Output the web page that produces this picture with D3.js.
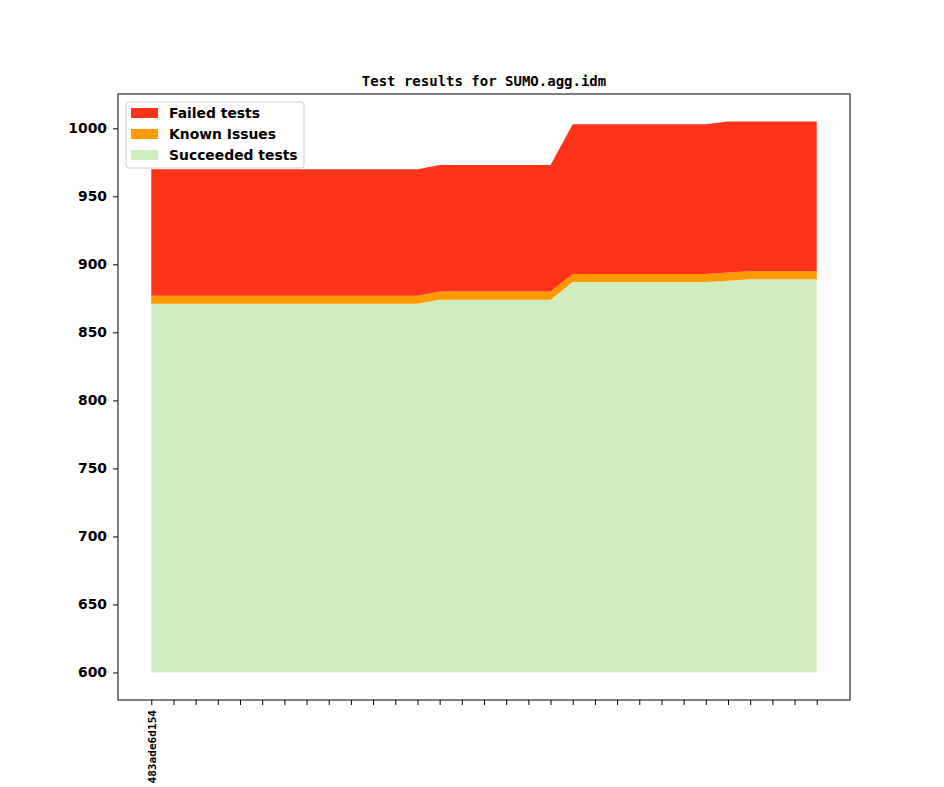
<!DOCTYPE html>
<html>
<head>
<meta charset="utf-8">
<script src="https://cdn.jsdelivr.net/npm/d3@7"></script>
<style>
    body { margin: 0; background: #fff; }
    svg { display: block; }
</style>
</head>
<body>
<svg id="chart"></svg>
<script>
// one entry per commit, only the first one carries a label
const commitLabels = ["483ade6d154", "", "", "", "", "", "", "", "", "", "",
    "", "", "", "", "", "", "", "", "", "", "",
    "", "", "", "", "", "", "", "", ""];

const succeededTests = [871, 871, 871, 871, 871, 871, 871, 871, 871, 871, 871,
    871, 871, 874, 874, 874, 874, 874, 874, 887, 887, 887,
    887, 887, 887, 887, 888, 889, 889, 889, 889];

const knownIssues = [6, 6, 6, 6, 6, 6, 6, 6, 6, 6, 6,
    6, 6, 6, 6, 6, 6, 6, 6, 6, 6, 6,
    6, 6, 6, 6, 6, 6, 6, 6, 6];

const failedTests = [93, 93, 93, 93, 93, 93, 93, 93, 93, 93, 93,
    93, 93, 93, 93, 93, 93, 93, 93, 110, 110, 110,
    110, 110, 110, 110, 111, 110, 110, 110, 110];

const yTicks = [600, 650, 700, 750, 800, 850, 900, 950, 1000];
// the bottom layer is filled down to this value only
const areaBase = 600;

const seriesKeys = ["succeeded", "known", "failed"];
const seriesNames = { failed: "Failed tests", known: "Known Issues", succeeded: "Succeeded tests" };
const seriesColors = { failed: "#ff331a", known: "#ff9900", succeeded: "#cfedbf" };

class StackChart {

    constructor( config, data ) {
        this.config = {
            parent: config.parent,
            width: config.width || 944,
            height: config.height || 787,
            margin: config.margin || {top:94, right:94, bottom:87, left:118}
        }
        this.data = data
        this.init();
    }

    init() {
        let self = this;

        self.svg = d3.select( self.config.parent )
            .attr('width', self.config.width)
            .attr('height', self.config.height);

        self.chart = self.svg.append('g')
            .attr('transform', `translate(${self.config.margin.left}, ${self.config.margin.top})`);

        self.inner_width = self.config.width - self.config.margin.left - self.config.margin.right;
        self.inner_height = self.config.height - self.config.margin.top - self.config.margin.bottom;

        // matplotlib style 5% margins
        const n = self.data.length;
        const xpad = (n - 1) * 0.05;
        self.xscale = d3.scaleLinear()
            .domain( [-xpad, n - 1 + xpad] )
            .range( [0, self.inner_width] );

        self.stack = d3.stack().keys(seriesKeys);
        self.layers = self.stack(self.data);

        const ymax = d3.max( self.layers[self.layers.length - 1], d => d[1] );
        const ypad = (ymax - areaBase) * 0.05;
        self.yscale = d3.scaleLinear()
            .domain( [areaBase - ypad, ymax + ypad] )
            .range( [self.inner_height, 0] );

        self.xaxis = d3.axisBottom( self.xscale )
            .tickValues( d3.range(n) )
            .tickFormat( i => commitLabels[i] )
            .tickSize(5)
            .tickSizeOuter(0);

        self.yaxis = d3.axisLeft( self.yscale )
            .tickValues( yTicks )
            .tickFormat( d3.format("d") )
            .tickSize(5)
            .tickPadding(6)
            .tickSizeOuter(0);

        self.area = d3.area()
            .x( d => self.xscale(d.data.index) )
            .y0( d => self.yscale(Math.max(d[0], areaBase)) )
            .y1( d => self.yscale(d[1]) );

        self.svg.append("text")
            .attr("x", self.config.margin.left + self.inner_width / 2)
            .attr("y", 86)
            .attr("text-anchor", "middle")
            .attr("font-family", "DejaVu Sans Mono")
            .attr("font-weight", "bold")
            .attr("font-size", 14)
            .text("Test results for SUMO.agg.idm");

        self.render();
    }

    render() {
        let self = this;

        self.chart.selectAll(".layer")
            .data(self.layers)
            .join("path")
            .attr("class", "layer")
            .attr("d", d => self.area(d))
            .attr("fill", d => seriesColors[d.key]);

        self.xaxis_group = self.chart.append('g')
            .attr('transform', `translate(0, ${self.inner_height})`)
            .call(self.xaxis);
        self.xaxis_group.select(".domain").remove();
        self.xaxis_group.selectAll("text")
            .attr("transform", "rotate(-90)")
            .attr("x", -10)
            .attr("y", 0)
            .attr("dy", "0.35em")
            .attr("text-anchor", "end")
            .attr("font-family", "DejaVu Sans Mono")
            .attr("font-weight", "bold")
            .attr("font-size", 11.1)
            .attr("fill", "#000");

        self.yaxis_group = self.chart.append('g')
            .call(self.yaxis);
        self.yaxis_group.select(".domain").remove();
        self.yaxis_group.selectAll("text")
            .attr("font-family", "DejaVu Sans")
            .attr("font-weight", "bold")
            .attr("font-size", 13.9)
            .attr("fill", "#000");

        self.chart.selectAll(".tick line").attr("stroke", "#000");

        // axes frame
        self.chart.append("rect")
            .attr("x", 0)
            .attr("y", 0)
            .attr("width", self.inner_width)
            .attr("height", self.inner_height)
            .attr("fill", "none")
            .attr("stroke", "#000")
            .attr("stroke-width", 1);

        // legend, top-most series first
        const legend = self.chart.append("g")
            .attr("transform", "translate(8, 8)");
        const legendKeys = seriesKeys.slice().reverse();

        legend.append("rect")
            .attr("width", 178)
            .attr("height", 66)
            .attr("rx", 3)
            .attr("fill", "#fff")
            .attr("fill-opacity", 0.8)
            .attr("stroke", "#cccccc");

        const rows = legend.selectAll(".legend-row")
            .data(legendKeys)
            .join("g")
            .attr("class", "legend-row")
            .attr("transform", (d, i) => `translate(5, ${11 + i * 21})`);

        rows.append("rect")
            .attr("x", 0)
            .attr("y", -5)
            .attr("width", 27)
            .attr("height", 10)
            .attr("fill", d => seriesColors[d]);

        rows.append("text")
            .attr("x", 38)
            .attr("y", 0)
            .attr("dy", "0.36em")
            .attr("font-family", "DejaVu Sans")
            .attr("font-weight", "bold")
            .attr("font-size", 13.9)
            .text(d => seriesNames[d]);
    }
}

const tableData = commitLabels.map( (c, i) => ({
    index: i,
    succeeded: succeededTests[i],
    known: knownIssues[i],
    failed: failedTests[i]
}));

let chart = new StackChart( { parent: '#chart', width: 944, height: 787 }, tableData );
</script>
</body>
</html>
